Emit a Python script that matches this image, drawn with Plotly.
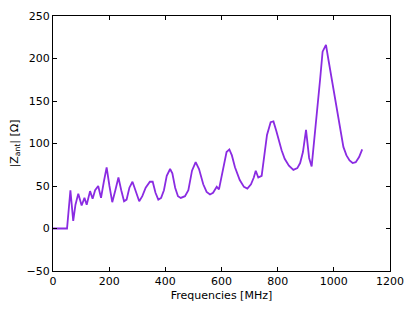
import plotly.graph_objects as go

freq = [0, 10, 20, 30, 40, 50, 62, 72, 80, 90, 102, 112, 120, 132, 141, 150, 161, 171, 181, 191,
        201, 211, 222, 233, 243, 253, 262, 272, 283, 295, 307, 318, 330, 345, 355, 365, 375, 385,
        395, 405, 417, 425, 435, 445, 455, 470, 482, 495, 508, 520, 535, 547, 559, 570, 583, 591,
        605, 618, 628, 637, 648, 665, 680, 692, 705, 715, 722, 731, 743, 752, 762, 775, 785, 795,
        805, 814, 825, 840, 856, 870, 880, 890, 901, 912, 921, 935, 945, 951, 960, 972, 980, 990,
        999, 1008, 1016, 1025, 1034, 1045, 1056, 1067, 1078, 1090, 1101]
zmag = [0, 0, 0, 0, 0, 0, 45, 9, 28, 41, 27, 36, 28, 44, 35, 45, 50, 36, 55, 72,
        50, 31, 45, 60, 45, 32, 34, 48, 55, 42, 32, 38, 48, 55, 55, 42, 34, 36,
        45, 62, 70, 65, 48, 38, 36, 38, 45, 68, 78, 70, 52, 43, 40, 42, 49, 46,
        70, 90, 93, 86, 72, 57, 49, 47, 52, 60, 68, 60, 62, 85, 110, 125, 126, 115,
        101, 92, 82, 74, 69, 71, 77, 90, 116, 83, 73, 118, 150, 175, 208, 216, 200, 180,
        167, 145, 128, 110, 96, 86, 80, 77, 78, 84, 93]

xticks = [0, 200, 400, 600, 800, 1000, 1200]
yticks = [-50, 0, 50, 100, 150, 200, 250]

fig = go.Figure(go.Scatter(x=freq, y=zmag, mode="lines",
                           line=dict(color="#8a2be2", width=1.8)))

axis_common = dict(showline=True, linecolor="black", linewidth=1, mirror="ticks",
                   ticks="inside", ticklen=4, tickcolor="black", showgrid=False,
                   zeroline=False, automargin=False,
                   tickfont=dict(family="DejaVu Sans", size=11, color="black"))

fig.update_xaxes(range=[0, 1200], tickvals=xticks, ticktext=[str(t) for t in xticks],
                 title=dict(text="Frequencies [MHz]", font=dict(family="DejaVu Sans", size=11, color="black"),
                            standoff=4),
                 **axis_common)
fig.update_yaxes(range=[-50, 250], tickvals=yticks,
                 ticktext=[("\u2212" + str(-t)) if t < 0 else str(t) for t in yticks],
                 title=dict(text="|Z<sub>ant</sub>| [\u03a9]", font=dict(family="DejaVu Sans", size=11, color="black"),
                            standoff=8),
                 **axis_common)

# page body has an 8px margin, so the figure is sized/offset to put the plot area where the reference has it
fig.update_layout(width=407, height=304, margin=dict(l=45, r=25, t=8, b=41),
                  plot_bgcolor="white", paper_bgcolor="white", showlegend=False)

fig.write_html("out.html")
